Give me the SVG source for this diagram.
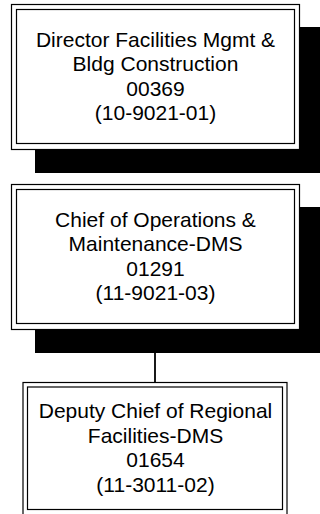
<svg xmlns="http://www.w3.org/2000/svg" width="320" height="514" viewBox="0 0 320 514">
  <style>
    .shadow { fill: #000; }
    .outer { fill: #fff; stroke: #000; stroke-width: 1.2; }
    .inner { fill: #fff; stroke: #000; stroke-width: 1.2; }
    .label { font-family: "Liberation Sans", Arial, sans-serif; font-size: 21px; fill: #000; text-anchor: middle; }
    .link { stroke: #000; stroke-width: 1.8; fill: none; }
  </style>

  <!-- connectors -->
  <g id="connectors">
    <line class="link" x1="155" y1="352" x2="155" y2="382.5"/>
    <line class="link" x1="155" y1="510" x2="155" y2="514"/>
  </g>

  <!-- Director node -->
  <g id="node-00369">
    <rect class="shadow" x="35" y="27" width="290" height="146"/>
    <rect class="outer" x="11.5" y="4.5" width="288" height="145"/>
    <rect class="inner" x="16.5" y="9.5" width="278" height="134"/>
    <text class="label" x="155.5" y="46.5">Director Facilities Mgmt &amp;</text>
    <text class="label" x="155.5" y="71">Bldg Construction</text>
    <text class="label" x="155.5" y="95.5">00369</text>
    <text class="label" x="155.5" y="120">(10-9021-01)</text>
  </g>

  <!-- Chief of Operations node -->
  <g id="node-01291">
    <rect class="shadow" x="35" y="207" width="290" height="146"/>
    <rect class="outer" x="11.5" y="184.5" width="288" height="145"/>
    <rect class="inner" x="16.5" y="189.5" width="278" height="134"/>
    <text class="label" x="155.5" y="226.5">Chief of Operations &amp;</text>
    <text class="label" x="155.5" y="251">Maintenance-DMS</text>
    <text class="label" x="155.5" y="275.5">01291</text>
    <text class="label" x="155.5" y="300">(11-9021-03)</text>
  </g>

  <!-- Deputy Chief node -->
  <g id="node-01654">
    <rect class="outer" x="23" y="382.5" width="264" height="134"/>
    <rect class="inner" x="27.5" y="387" width="255" height="122.5"/>
    <text class="label" x="155.5" y="418">Deputy Chief of Regional</text>
    <text class="label" x="155.5" y="442.5">Facilities-DMS</text>
    <text class="label" x="155.5" y="467">01654</text>
    <text class="label" x="155.5" y="491.5">(11-3011-02)</text>
  </g>
</svg>
